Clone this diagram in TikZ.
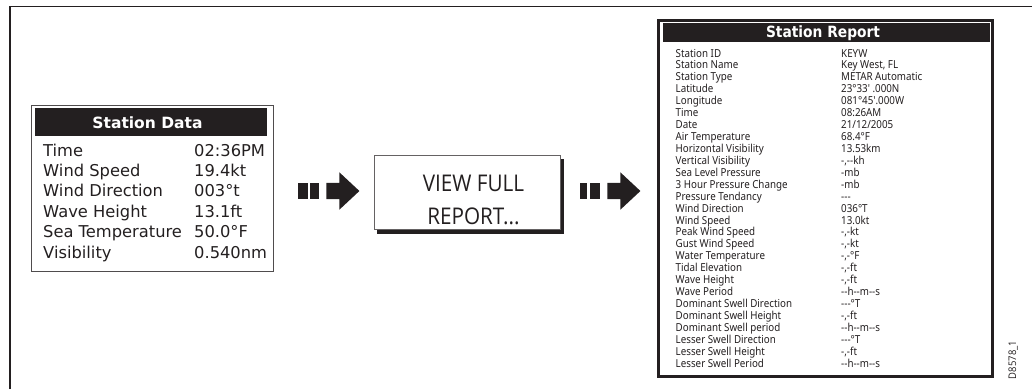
\documentclass[tikz,border=0pt]{standalone}
\usepackage{graphicx}
\usepackage{fontspec}
\newfontfamily\panelfont{DejaVu Sans}
\newfontfamily\reportfont[FakeStretch=0.89]{Noto Sans}
\newfontfamily\buttonfont[FakeStretch=0.9]{Open Sans}
\usetikzlibrary{shapes.arrows}
\definecolor{inkdark}{HTML}{231F20}
\tikzset{
  headbar/.style={fill=inkdark,inner sep=0pt},
  headtext/.style={text=white,inner sep=0pt},
  datarow/.style={anchor=base west,inner sep=0pt,text=inkdark,font=\panelfont\fontsize{16.3}{18}\selectfont},
  reportrow/.style={anchor=base west,inner sep=0pt,text=inkdark,font=\reportfont\fontsize{11}{12}\selectfont},
  blockbar/.style={fill=inkdark,inner sep=0pt,minimum height=16pt},
  blockhead/.style={single arrow,fill=inkdark,inner sep=0pt,text height=16pt,text depth=0pt,minimum height=33pt,
    single arrow head extend=10.5pt,single arrow tip angle=86},
}
\begin{document}
\begin{tikzpicture}[x=1pt,y=-1pt]
  \useasboundingbox (0,0) rectangle (1032,389);
  % outer frame
  \coordinate (framebottom) at (10,389);
  \coordinate (framecorner) at (10,6.5);
  \coordinate (frameright) at (1032,6.5);
  \draw[inkdark,line width=1.2pt] (framebottom) -- (framecorner) -- (frameright);
  % left panel
  \node (datapanel) [draw=inkdark!80,line width=0.9pt,minimum width=242pt,minimum height=166pt,inner sep=0pt] at (152,188) {};
  \node (datahead) [headbar,minimum width=232pt,minimum height=28pt] at (151,122) {};
  \node (datatitle) [headtext,font=\panelfont\bfseries\fontsize{15.5}{18}\selectfont] at (147.5,123) {Station Data};
  \foreach \lbl/\val/\ypos [count=\i] in {Time/02:36PM/156,Wind Speed/19.4kt/176,Wind Direction/003°t/196.5,
      Wave Height/13.1ft/217,Sea Temperature/50.0°F/237,Visibility/0.540nm/258} {
    \node (datalbl\i) [datarow] at (43,\ypos) {\lbl};
    \node (dataval\i) [datarow] at (194,\ypos) {\val};
  }
  % first arrow
  \node (barA1) [blockbar,minimum width=10pt] at (303,191) {};
  \node (barA2) [blockbar,minimum width=9pt] at (314,191) {};
  \node (headA) [blockhead] at (338.5,191) {};
  % button
  \node (buttonshadow) [fill=inkdark,minimum width=187pt,minimum height=75pt,inner sep=0pt] at (470.5,196.5) {};
  \node (button) [draw=inkdark!70,fill=white,line width=0.9pt,minimum width=186pt,minimum height=74pt,inner sep=0pt] at (467,192.5) {};
  \node (buttontext) [align=center,text=inkdark,inner sep=0pt,font=\buttonfont\fontsize{23}{33}\selectfont] at (473.5,199.5) {VIEW FULL\\REPORT...};
  % second arrow
  \node (barB1) [blockbar,minimum width=7.5pt] at (583.5,191) {};
  \node (barB2) [blockbar,minimum width=10pt] at (595,191) {};
  \node (headB) [blockhead] at (619.5,191) {};
  % report panel
  \node (reportpanel) [draw=inkdark,line width=3.6pt,minimum width=334pt,minimum height=356pt,inner sep=0pt] at (825.5,198.5) {};
  \node (reporthead) [headbar,minimum width=327pt,minimum height=19.5pt] at (826.5,32.5) {};
  \node (reporttitle) [headtext,font=\panelfont\bfseries\fontsize{15.5}{18}\selectfont] at (823,33) {\scalebox{0.89}[1]{Station Report}};
  \foreach \lbl/\val [count=\i] in {Station ID/KEYW,Station Name/{Key West, FL},Station Type/METAR Automatic,
      Latitude/23°33' .000N,Longitude/081°45'.000W,Time/08:26AM,Date/{21/12/2005},Air Temperature/68.4°F,
      Horizontal Visibility/13.53km,Vertical Visibility/{-,--kh},Sea Level Pressure/-mb,
      3 Hour Pressure Change/-mb,Pressure Tendancy/---,Wind Direction/036°T,Wind Speed/13.0kt,
      Peak Wind Speed/{-,-kt},Gust Wind Speed/{-,-kt},Water Temperature/{-,-°F},Tidal Elevation/{-,-ft},
      Wave Height/{-,-ft},Wave Period/--h--m--s,Dominant Swell Direction/---°T,Dominant Swell Height/{-,-ft},
      Dominant Swell period/--h--m--s,Lesser Swell Direction/---°T,Lesser Swell Height/{-,-ft},
      Lesser Swell Period/--h--m--s} {
    \node (reportlbl\i) [reportrow] at (675.5,{57+(\i-1)*11.93}) {\lbl};
    \node (reportval\i) [reportrow] at (841,{57+(\i-1)*11.93}) {\val};
  }
  \node (drawingref) [rotate=90,anchor=center,inner sep=0pt,text=inkdark,font=\buttonfont\fontsize{10.5}{11}\selectfont] at (1013,360) {D8578\_1};
\end{tikzpicture}
\end{document}
